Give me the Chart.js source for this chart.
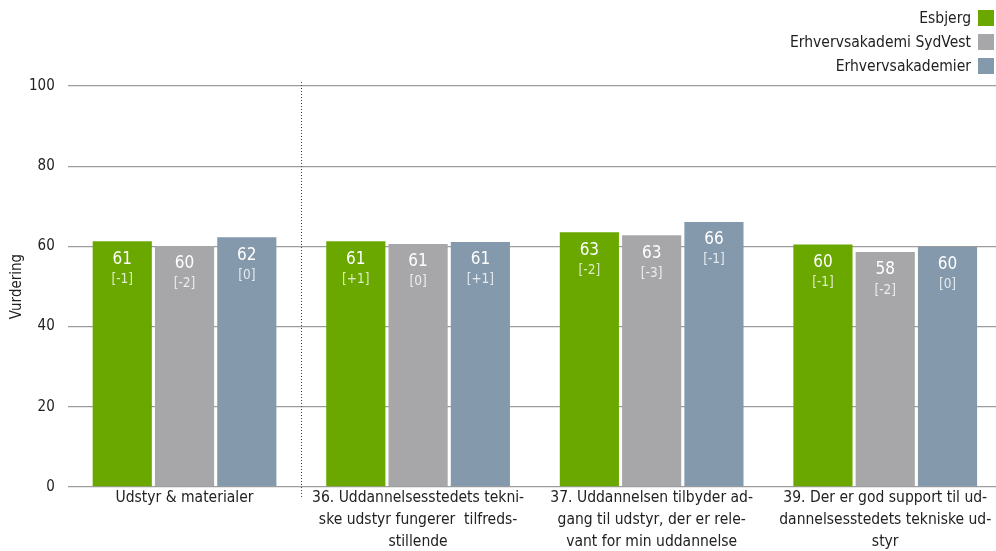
<!DOCTYPE html>
<html>
<head>
<meta charset="utf-8">
<script src="https://cdn.jsdelivr.net/npm/chart.js@4/dist/chart.umd.min.js"></script>
<style>
  html, body { margin: 0; padding: 0; background: #fff; overflow: hidden; }
  #wrap { position: relative; width: 1002px; height: 553px; }
  #legend { position: absolute; right: 8px; top: 6px; font-family: Tahoma, "DejaVu Sans Condensed", "DejaVu Sans", sans-serif; font-size: 15.5px; color: #222; }
  .lg-row { display: flex; justify-content: flex-end; align-items: center; height: 24px; }
  .lg-box { width: 16px; height: 16px; margin-left: 7px; }
</style>
</head>
<body>
<div id="wrap">
  <canvas id="chart"></canvas>
  <div id="legend"></div>
</div>
<script>
const FONT = 'Tahoma, "DejaVu Sans Condensed", "DejaVu Sans", sans-serif';

const categories = [
  ["Udstyr & materialer"],
  ["36. Uddannelsesstedets tekni-", "ske udstyr fungerer  tilfreds-", "stillende"],
  ["37. Uddannelsen tilbyder ad-", "gang til udstyr, der er rele-", "vant for min uddannelse"],
  ["39. Der er god support til ud-", "dannelsesstedets tekniske ud-", "styr"],
];

const seriesNames = ["Esbjerg", "Erhvervsakademi SydVest", "Erhvervsakademier"];
const seriesColors = ["#6aa800", "#a7a7aa", "#8599ad"];

// bar heights
const esbjerg = [61.3, 61.3, 63.5, 60.5];
const sydVest = [60.1, 60.6, 62.8, 58.6];
const akademier = [62.3, 61.1, 66.1, 59.9];

// printed labels
const esbjergLabels = ["61", "61", "63", "60"];
const sydVestLabels = ["60", "61", "63", "58"];
const akademierLabels = ["62", "61", "66", "60"];

const esbjergChange = ["[-1]", "[+1]", "[-2]", "[-1]"];
const sydVestChange = ["[-2]", "[0]", "[-3]", "[-2]"];
const akademierChange = ["[0]", "[+1]", "[-1]", "[0]"];

const yTicks = [0, 20, 40, 60, 80, 100];
const yTitle = "Vurdering";

const values = [esbjerg, sydVest, akademier];
const valueLabels = [esbjergLabels, sydVestLabels, akademierLabels];
const changeLabels = [esbjergChange, sydVestChange, akademierChange];

// ── Legend ──

const legendEl = document.getElementById("legend");
legendEl.innerHTML = seriesNames
  .map((n, i) => `<div class="lg-row"><span>${n}</span><span class="lg-box" style="background:${seriesColors[i]}"></span></div>`)
  .join("");

// ── Plugins ──

const barLabels = {
  id: "barLabels",
  afterDatasetsDraw(chart) {
    const ctx = chart.ctx;
    ctx.save();
    ctx.textAlign = "center";
    ctx.textBaseline = "middle";
    chart.data.datasets.forEach((ds, di) => {
      const meta = chart.getDatasetMeta(di);
      meta.data.forEach((bar, i) => {
        ctx.fillStyle = "#ffffff";
        ctx.font = `17px ${FONT}`;
        ctx.fillText(valueLabels[di][i], bar.x, bar.y + 18);
        ctx.fillStyle = "rgba(255,255,255,0.78)";
        ctx.font = `13.5px ${FONT}`;
        ctx.fillText(changeLabels[di][i], bar.x, bar.y + 38);
      });
    });
    ctx.restore();
  },
};

// dotted separator after the first (summary) category + rotated y title
const extras = {
  id: "extras",
  afterDatasetsDraw(chart) {
    const x = chart.scales.x;
    const area = chart.chartArea;
    const px = Math.round((x.getPixelForValue(0) + x.getPixelForValue(1)) / 2) + 0.5;
    const ctx = chart.ctx;
    ctx.save();
    ctx.strokeStyle = "#444";
    ctx.lineWidth = 1;
    ctx.setLineDash([1, 2]);
    ctx.beginPath();
    ctx.moveTo(px, area.top - 4);
    ctx.lineTo(px, area.bottom + 10);
    ctx.stroke();
    ctx.restore();

    ctx.save();
    ctx.translate(17, (area.top + area.bottom) / 2);
    ctx.rotate(-Math.PI / 2);
    ctx.textAlign = "center";
    ctx.textBaseline = "middle";
    ctx.fillStyle = "#222";
    ctx.font = `15px ${FONT}`;
    ctx.fillText(yTitle, 0, 0);
    ctx.restore();
  },
};

// ── Chart ──

new Chart(document.getElementById("chart"), {
  type: "bar",
  data: {
    labels: categories,
    datasets: seriesNames.map((name, i) => ({
      label: name,
      data: values[i],
      backgroundColor: seriesColors[i],
      categoryPercentage: 0.8,
      barPercentage: 0.95,
    })),
  },
  options: {
    responsive: true,
    maintainAspectRatio: false,
    animation: false,
    layout: { padding: { top: 86, right: 0, left: 16, bottom: 0 } },
    plugins: {
      legend: { display: false },
      tooltip: { enabled: false },
    },
    scales: {
      x: {
        grid: { display: false, drawTicks: false },
        border: { display: false },
        ticks: {
          color: "#222",
          font: { family: FONT, size: 15.5, lineHeight: 1.42 },
          maxRotation: 0,
          autoSkip: false,
          padding: 0,
        },
      },
      y: {
        min: 0,
        max: 100,
        afterBuildTicks: (axis) => { axis.ticks = yTicks.map((v) => ({ value: v })); },
        grid: { color: "#9d9d9d", lineWidth: 1.2, drawTicks: false },
        border: { display: false },
        ticks: {
          color: "#222",
          font: { family: FONT, size: 15 },
          padding: 13,
        },
      },
    },
  },
  plugins: [barLabels, extras],
});
</script>
</body>
</html>
